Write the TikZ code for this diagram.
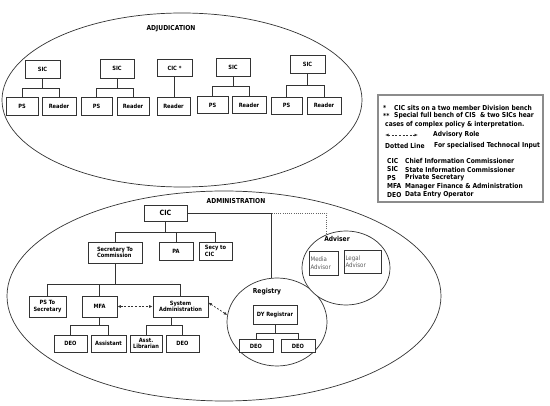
\documentclass[tikz,border=0pt]{standalone}
\usepackage{fontspec}
\setmainfont{DejaVu Sans}[FakeStretch=0.88]
\usetikzlibrary{arrows.meta,shapes.geometric,calc}
\begin{document}
\begin{tikzpicture}[x=1pt,y=-1pt,
  line/.style={draw=black!80, line width=0.7pt},
  box/.style={draw=black!80, line width=0.7pt, rectangle, inner sep=1pt, align=center, fill=white,
    font=\fontsize{5.8}{6.5}\selectfont\bfseries},
  wh/.style 2 args={minimum width=#1pt, minimum height=#2pt},
  oval/.style={draw=black!80, line width=0.7pt, ellipse, inner sep=0pt},
  ttl/.style={inner sep=0pt, font=\fontsize{6.8}{8}\selectfont\bfseries},
  lbl/.style={inner sep=0pt, font=\fontsize{6.8}{8}\selectfont\bfseries},
  soft/.style={draw=black!80, line width=0.7pt, rectangle, inner sep=1.2pt, align=left, anchor=north west,
    text=black!65, font=\fontsize{6.2}{7.6}\selectfont},
  leg/.style={inner sep=0pt, anchor=west, font=\fontsize{6.8}{8}\selectfont\bfseries},
  advarrow/.style={draw=black!80, line width=0.7pt, dash pattern=on 2pt off 1.6pt,
    {Latex[length=3.5pt,width=3pt]}-{Latex[length=3.5pt,width=3pt]}},
  dotline/.style={draw=black!60, line width=0.8pt, dash pattern=on 0.8pt off 1.4pt}
]
\useasboundingbox (0,0) rectangle (550,406);

% ---------------- ADJUDICATION ----------------
\node[oval, minimum width=360pt, minimum height=174pt] (adj) at (182,100) {};
\node[ttl] (adjt) at (171,29) {ADJUDICATION};

\node[box, wh={35}{18}] (sic1) at (42.5,69) {SIC};
\node[box, wh={34}{19}] (sic2) at (117,68.5) {SIC};
\node[box, wh={35}{17}] (cic1) at (174.5,68) {CIC *};
\node[box, wh={34}{18}] (sic3) at (233,67) {SIC};
\node[box, wh={35}{18}] (sic4) at (307.5,64) {SIC};

\node[box, wh={32}{18}] (ps1) at (22,106.5) {PS};
\node[box, wh={34}{18}] (rd1) at (59,106.5) {Reader};
\node[box, wh={31}{18}] (ps2) at (96.5,106.5) {PS};
\node[box, wh={32}{18}] (rd2) at (133,106.5) {Reader};
\node[box, wh={33}{18}] (rd3) at (173.5,106) {Reader};
\node[box, wh={31}{17}] (ps3) at (212.5,105) {PS};
\node[box, wh={34}{17}] (rd4) at (249,105) {Reader};
\node[box, wh={31}{17}] (ps4) at (286.5,105.5) {PS};
\node[box, wh={34}{17}] (rd5) at (324,105.5) {Reader};

\draw[line] (sic1.south) -- ++(0,10) -| (ps1.north);
\draw[line] (sic1.south) -- ++(0,10) -| (rd1.north);
\draw[line] (sic2.south) -- ++(0,10) -| (ps2.north);
\draw[line] (sic2.south) -- ++(0,10) -| (rd2.north);
\draw[line] (cic1.south) -- (cic1.south |- rd3.north);
\draw[line] (sic3.south) -- ++(0,10) -| (ps3.north);
\draw[line] (sic3.south) -- ++(0,10) -| (rd4.north);
\draw[line] (sic4.south) -- ++(0,12) -| (ps4.north);
\draw[line] (sic4.south) -- ++(0,12) -| (rd5.north);

% ---------------- LEGEND ----------------
\node[draw=black!45, line width=1.2pt, minimum width=165pt, minimum height=107pt, inner sep=0pt] (legbox) at (460.5,148.5) {};
\node[leg] (l1a) at (383,107.5) {*};
\node[leg] (l1b) at (394,107.5) {CIC sits on a two member Division bench};
\node[leg] (l2a) at (383,116) {**};
\node[leg] (l2b) at (394,116) {Special full bench of CIS \ \& two SICs hear};
\node[leg] (l3) at (385,124.5) {cases of complex policy \& interpretation.};
\coordinate (la) at (385,135);
\coordinate (lb) at (418,135);
\draw[advarrow] (la) -- (lb);
\node[leg] (l4) at (433,135) {Advisory Role};
\node[leg] (l5a) at (385,146) {Dotted Line};
\node[leg] (l5b) at (434,146) {For specialised Technocal Input};
\node[leg] (a1) at (387,161) {CIC};
\node[leg] (d1) at (405,161) {Chief Information Commissioner};
\node[leg] (a2) at (387,169.5) {SIC};
\node[leg] (d2) at (405,169.5) {State Information Commissioner};
\node[leg] (a3) at (387,178) {PS};
\node[leg] (d3) at (405,178) {Private Secretary};
\node[leg] (a4) at (387,186.5) {MFA};
\node[leg] (d4) at (405,186.5) {Manager Finance \& Administration};
\node[leg] (a5) at (387,195) {DEO};
\node[leg] (d5) at (405,195) {Data Entry Operator};

% ---------------- ADMINISTRATION ----------------
\node[oval, minimum width=434pt, minimum height=210pt] (admin) at (224,296) {};
\node[ttl] (admt) at (236,201) {ADMINISTRATION};

\node[oval, minimum width=100pt, minimum height=88pt, fill=white] (reg) at (277,322) {};
\node[oval, minimum width=88pt, minimum height=74pt, fill=white] (adv) at (346,268) {};

\node[box, wh={43}{16}, font=\fontsize{7.2}{8}\selectfont\bfseries] (cic) at (165.5,213) {CIC};
\node[box, wh={54}{21}, align=left] (sec) at (115,252.5) {Secretary To\\Commission};
\node[box, wh={34}{18}] (pa) at (176,251) {PA};
\node[box, wh={33}{18}, align=left] (secy) at (215.5,251) {Secy to\\CIC};

\node[box, wh={37}{21}] (pst) at (47.5,306.5) {PS To\\Secretary};
\node[box, wh={35}{21}] (mfa) at (99.5,306.5) {MFA};
\node[box, wh={55}{21}] (sys) at (180.5,306.5) {System\\Administration};

\node[box, wh={33}{17}] (deo1) at (70.5,343.5) {DEO};
\node[box, wh={35}{17}] (asst) at (108.5,343.5) {Assistant};
\node[box, wh={32}{17}] (lib) at (146,343.5) {Asst.\\Librarian};
\node[box, wh={33}{17}] (deo2) at (182.5,343.5) {DEO};

\draw[line] (cic.south) -- ++(0,11) -| (sec.north);
\draw[line] (cic.south) -- ++(0,11) -| (pa.north);
\draw[line] (cic.south) -- ++(0,11) -| (secy.north);
\draw[line] (sec.south) -- ++(0,21) -| (pst.north);
\draw[line] (sec.south) -- ++(0,21) -| (mfa.north);
\draw[line] (sec.south) -- ++(0,21) -| (sys.north);
\draw[line] (mfa.south) -- ++(0,8) -| (deo1.north);
\draw[line] (mfa.south) -- ++(0,8) -| (asst.north);
\draw[line] ([xshift=-9.5pt]sys.south) -- ++(0,8) -| (lib.north);
\draw[line] ([xshift=-9.5pt]sys.south) -- ++(0,8) -| (deo2.north);

\draw[advarrow] (mfa.east) -- (sys.west);
\draw[advarrow] (sys.8) -- (reg.172);

% Registry
\node[lbl] (regl) at (267,292) {Registry};
\node[box, wh={44}{19}] (dyr) at (275,314.5) {DY Registrar};
\node[box, wh={34}{13}] (deo3) at (256,346) {DEO};
\node[box, wh={34}{13}] (deo4) at (298,346) {DEO};
\draw[line] (dyr.south) -- ++(0,9) -| (deo3.north);
\draw[line] (dyr.south) -- ++(0,9) -| (deo4.north);

\draw[line] (cic.east) -| (reg.97);
\coordinate (corner) at (cic.east -| reg.97);
\draw[dotline] (corner) -| (adv.120);

% Adviser
\node[lbl] (advl) at (337,239) {Adviser};
\node[soft, wh={29}{24}, text width=26.6pt] (media) at (309,251) {Media\\Advisor};
\node[soft, wh={37}{23}, text width=34.6pt] (legal) at (344,250) {Legal\\Advisor};

\end{tikzpicture}
\end{document}
